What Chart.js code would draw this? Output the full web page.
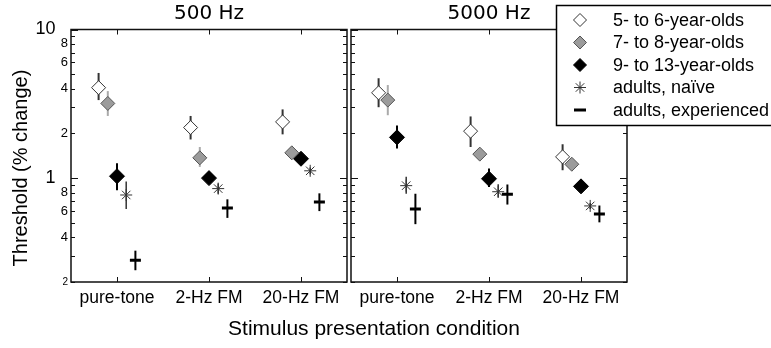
<!DOCTYPE html>
<html><head><meta charset="utf-8">
<script src="https://cdn.jsdelivr.net/npm/chart.js@4"></script>
<style>
html,body{margin:0;padding:0;background:#fff;}
#wrap{position:relative;width:771px;height:348px;overflow:hidden;background:#fff;}
#c1{position:absolute;left:0;top:0;}
#c2{position:absolute;left:341px;top:0;}
</style></head><body>
<div id="wrap"><canvas id="c1" width="771" height="348"></canvas><canvas id="c2" width="430" height="348"></canvas></div>
<script>
// ---------- data ----------
const categories = ['pure-tone', '2-Hz FM', '20-Hz FM'];
const groupLabels = ['5- to 6-year-olds', '7- to 8-year-olds', '9- to 13-year-olds', 'adults, na\u00efve', 'adults, experienced'];
const panelTitles = ['500 Hz', '5000 Hz'];
const yAxisTitle = 'Threshold (% change)';
const xAxisTitle = 'Stimulus presentation condition';
const yTickValues = [0.2, 0.3, 0.4, 0.5, 0.6, 0.7, 0.8, 0.9, 1, 2, 3, 4, 5, 6, 7, 8, 9, 10];
const yTickLabels = ['2', '', '4', '', '6', '', '8', '', '1', '2', '', '4', '', '6', '', '8', '', '10'];

// 500 Hz panel: means, lower and upper error-bar ends
const m500_age5to6  = [4.06, 2.19, 2.39];
const lo500_age5to6 = [3.35, 1.82, 1.97];
const hi500_age5to6 = [5.10, 2.62, 2.90];
const m500_age7to8  = [3.18, 1.37, 1.48];
const lo500_age7to8 = [2.62, 1.19, 1.42];
const hi500_age7to8 = [3.85, 1.62, 1.55];
const m500_age9to13  = [1.03, 1.00, 1.35];
const lo500_age9to13 = [0.83, 0.95, 1.30];
const hi500_age9to13 = [1.26, 1.05, 1.40];
const m500_naive  = [0.77, 0.85, 1.12];
const lo500_naive = [0.62, 0.785, 1.06];
const hi500_naive = [0.95, 0.92, 1.18];
const m500_exper  = [0.28, 0.63, 0.69];
const lo500_exper = [0.24, 0.54, 0.60];
const hi500_exper = [0.325, 0.72, 0.79];

// 5000 Hz panel
const m5000_age5to6  = [3.75, 2.07, 1.39];
const lo5000_age5to6 = [3.00, 1.62, 1.13];
const hi5000_age5to6 = [4.70, 2.60, 1.69];
const m5000_age7to8  = [3.35, 1.45, 1.24];
const lo5000_age7to8 = [2.65, 1.40, 1.20];
const hi5000_age7to8 = [4.23, 1.50, 1.28];
const m5000_age9to13  = [1.88, 0.99, 0.88];
const lo5000_age9to13 = [1.58, 0.87, 0.86];
const hi5000_age9to13 = [2.26, 1.16, 0.90];
const m5000_naive  = [0.89, 0.81, 0.65];
const lo5000_naive = [0.785, 0.74, 0.62];
const hi5000_naive = [1.02, 0.91, 0.68];
const m5000_exper  = [0.62, 0.78, 0.574];
const lo5000_exper = [0.49, 0.664, 0.504];
const hi5000_exper = [0.785, 0.906, 0.654];

// ---------- styling ----------
const groupOffsets = [-0.2, -0.1, 0, 0.1, 0.2];
const groupStyles = [
  {pointStyle:'rectRot', pointRadius:7,   backgroundColor:'#ffffff', borderColor:'#333333', borderWidth:1,   errColor:'#333333', errWidth:2},
  {pointStyle:'rectRot', pointRadius:7,   backgroundColor:'#9b9b9b', borderColor:'#555555', borderWidth:1,   errColor:'#aaaaaa', errWidth:2},
  {pointStyle:'rectRot', pointRadius:7.5, backgroundColor:'#000000', borderColor:'#000000', borderWidth:1,   errColor:'#000000', errWidth:2},
  {pointStyle:'star',    pointRadius:6,   backgroundColor:'rgba(0,0,0,0)', borderColor:'#333333', borderWidth:1, errColor:'#333333', errWidth:1.5},
  {pointStyle:'line',    pointRadius:5.5, backgroundColor:'#000000', borderColor:'#000000', borderWidth:3,   errColor:'#000000', errWidth:2}
];
const SANS = '"Liberation Sans", Arial, sans-serif';
const WIDE = '"DejaVu Sans", Verdana, sans-serif';
const C2_LEFT = 341;

function makeDatasets(means, los, his) {
  return groupLabels.map((lab, g) => Object.assign({
    label: lab,
    data: means[g].map((v, i) => ({x: i + 1 + groupOffsets[g], y: v})),
    errLo: los[g], errHi: his[g],
    showLine: false,
    pointHoverRadius: groupStyles[g].pointRadius
  }, groupStyles[g]));
}

const errorBarPlugin = {
  id: 'errorBars',
  beforeDatasetsDraw(chart) {
    const ctx = chart.ctx, x = chart.scales.x, y = chart.scales.y;
    ctx.save();
    chart.data.datasets.forEach(ds => {
      ctx.strokeStyle = ds.errColor; ctx.lineWidth = ds.errWidth;
      ds.data.forEach((p, i) => {
        const px = x.getPixelForValue(p.x);
        ctx.beginPath();
        ctx.moveTo(px, y.getPixelForValue(ds.errLo[i]));
        ctx.lineTo(px, y.getPixelForValue(ds.errHi[i]));
        ctx.stroke();
      });
    });
    ctx.restore();
  }
};

const panelFramePlugin = {
  id: 'panelFrame',
  afterDraw(chart) {
    const ctx = chart.ctx, a = chart.chartArea, x = chart.scales.x, y = chart.scales.y;
    ctx.save();
    ctx.strokeStyle = '#111111'; ctx.lineWidth = 1.5;
    ctx.beginPath();
    ctx.rect(a.left, a.top, a.right - a.left, a.bottom - a.top);
    ctx.stroke();
    ctx.lineWidth = 1;
    const seg = (x1, y1, x2, y2) => { ctx.beginPath(); ctx.moveTo(x1, y1); ctx.lineTo(x2, y2); ctx.stroke(); };
    yTickValues.forEach(v => {
      const py = Math.round(y.getPixelForValue(v)) + 0.5;
      const len = (v === 1 || v === 10) ? 7 : 4;
      seg(a.left, py, a.left + len, py);
      seg(a.right, py, a.right - len, py);
    });
    categories.forEach((c, i) => {
      const px = Math.round(x.getPixelForValue(i + 1)) + 0.5;
      seg(px, a.top, px, a.top + 5);
      seg(px, a.bottom, px, a.bottom - 5);
    });
    ctx.restore();
  }
};

const axisTitlesPlugin = {
  id: 'axisTitles',
  afterDraw(chart) {
    const ctx = chart.ctx;
    ctx.save();
    ctx.fillStyle = '#000';
    ctx.textAlign = 'center'; ctx.textBaseline = 'middle';
    ctx.font = '20px ' + SANS;
    ctx.translate(21, 168); ctx.rotate(-Math.PI / 2);
    ctx.fillText(yAxisTitle, 0, 0);
    ctx.restore();
    ctx.save();
    ctx.fillStyle = '#000';
    ctx.textAlign = 'center'; ctx.textBaseline = 'middle';
    ctx.font = '21px ' + SANS;
    ctx.fillText(xAxisTitle, 374, 329);
    ctx.restore();
  }
};

const legendPlugin = {
  id: 'boxLegend',
  afterDraw(chart) {
    const ctx = chart.ctx;
    const off = C2_LEFT;
    const bx = 556.5 - off, by = 5.5, bw = 230, bh = 120;
    ctx.save();
    ctx.fillStyle = '#fff'; ctx.fillRect(bx, by, bw, bh);
    ctx.strokeStyle = '#000'; ctx.lineWidth = 1.5; ctx.strokeRect(bx, by, bw, bh);
    ctx.font = '18px ' + SANS; ctx.textBaseline = 'middle'; ctx.textAlign = 'left';
    chart.data.datasets.forEach((ds, i) => {
      const cy = 20 + i * 22.5;
      const cx = 580 - off;
      ctx.fillStyle = ds.backgroundColor; ctx.strokeStyle = ds.borderColor; ctx.lineWidth = ds.borderWidth;
      Chart.helpers.drawPoint(ctx, {pointStyle: ds.pointStyle, radius: ds.pointStyle === 'rectRot' ? 6.5 : 6, rotation: 0, borderWidth: ds.borderWidth}, cx, cy);
      ctx.fillStyle = '#000';
      ctx.fillText(ds.label, 613 - off, cy + 1);
    });
    ctx.restore();
  }
};

function makeOptions(idx) {
  const left = idx === 0;
  return {
    responsive: false, animation: false,
    layout: {padding: left ? {left: 0, right: 424, top: 0, bottom: 0} : {left: 351 - C2_LEFT, right: 771 - 627, top: 0, bottom: 0}},
    plugins: {
      legend: {display: false}, tooltip: {enabled: false},
      title: {display: true, text: panelTitles[idx], fullSize: false, color: '#000',
              font: {family: WIDE, size: 20, weight: 'normal', lineHeight: 1.2}, padding: {top: 2, bottom: 3.5}}
    },
    scales: {
      x: {
        type: 'linear', min: 0.5, max: 3.5,
        grid: {display: false, drawTicks: false}, border: {display: false},
        afterBuildTicks: s => { s.ticks = categories.map((c, i) => ({value: i + 1})); },
        afterFit: s => { s.height = 66; s.paddingLeft = 0; s.paddingRight = 0; },
        ticks: {
          autoSkip: false, maxRotation: 0, padding: 6, color: '#000',
          font: {family: SANS, size: 17.5},
          callback: v => categories[Math.round(v) - 1]
        }
      },
      y: {
        type: 'logarithmic', min: 0.2, max: 10, display: left,
        grid: {display: false, drawTicks: false}, border: {display: false},
        afterBuildTicks: s => { s.ticks = yTickValues.map(v => ({value: v})); },
        afterFit: s => { s.width = left ? 71 : 0; },
        ticks: {
          autoSkip: false, padding: 3, color: '#000',
          font: ctx => {
            const v = ctx.tick ? ctx.tick.value : 1;
            if (v === 1 || v === 10) return {family: SANS, size: 18};
            if (v < 0.25) return {family: SANS, size: 10};
            return {family: SANS, size: 13};
          },
          callback: (v, i) => {
            const k = yTickValues.indexOf(v);
            const lab = k >= 0 ? yTickLabels[k] : '';
            return (v === 1 || v === 10) ? lab + '\u2002\u2009' : lab;
          }
        }
      }
    }
  };
}

new Chart(document.getElementById('c1'), {
  type: 'scatter',
  data: {datasets: makeDatasets(
    [m500_age5to6, m500_age7to8, m500_age9to13, m500_naive, m500_exper],
    [lo500_age5to6, lo500_age7to8, lo500_age9to13, lo500_naive, lo500_exper],
    [hi500_age5to6, hi500_age7to8, hi500_age9to13, hi500_naive, hi500_exper])},
  options: makeOptions(0),
  plugins: [errorBarPlugin, panelFramePlugin, axisTitlesPlugin]
});

new Chart(document.getElementById('c2'), {
  type: 'scatter',
  data: {datasets: makeDatasets(
    [m5000_age5to6, m5000_age7to8, m5000_age9to13, m5000_naive, m5000_exper],
    [lo5000_age5to6, lo5000_age7to8, lo5000_age9to13, lo5000_naive, lo5000_exper],
    [hi5000_age5to6, hi5000_age7to8, hi5000_age9to13, hi5000_naive, hi5000_exper])},
  options: makeOptions(1),
  plugins: [errorBarPlugin, panelFramePlugin, legendPlugin]
});
</script>
</body></html>
